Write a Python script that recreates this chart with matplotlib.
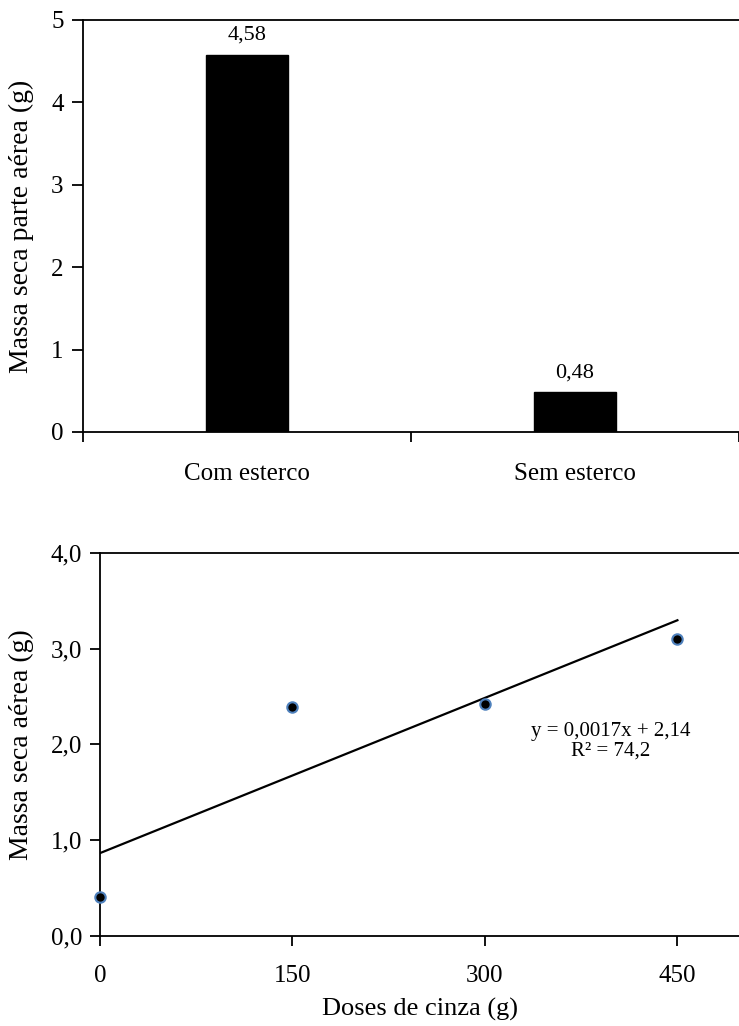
import numpy as np
import matplotlib
matplotlib.use("Agg")
import matplotlib.pyplot as plt

plt.rcParams['font.family'] = ['Liberation Serif', 'DejaVu Serif']

# Top chart data
categories = ["Com esterco", "Sem esterco"]
bar_values = [4.58, 0.48]
bar_labels = ["4,58", "0,48"]
top_yticks = [0, 1, 2, 3, 4, 5]

# Bottom chart data
doses = [0, 150, 300, 450]
massa = [0.41, 2.39, 2.42, 3.10]
bottom_yticks = [0.0, 1.0, 2.0, 3.0, 4.0]
bottom_xticks = [0, 150, 300, 450]
eq_text = "y = 0,0017x + 2,14\nR² = 74,2"

W, H = 739, 1026
fig = plt.figure(figsize=(W / 100, H / 100), dpi=100)

lw = 1.3
tick_fs = 18
label_fs = 20

# ---------- Top bar chart ----------
ax1 = fig.add_axes([83 / W, 1 - 432 / H, (W - 83) / W, (432 - 20) / H])
x = np.arange(len(categories))
ax1.bar(x, bar_values, width=0.25, color="black", edgecolor="black")
for xi, v, lab in zip(x, bar_values, bar_labels):
    ax1.annotate(lab, (xi, v), xytext=(0, 7), textcoords="offset points",
                 ha="center", va="bottom", fontsize=16)
ax1.set_xlim(-0.5, len(categories) - 0.5)
ax1.set_ylim(0, 5)
ax1.set_yticks(top_yticks)
ax1.set_yticklabels([str(t) for t in top_yticks])
ax1.set_xticks(x)
ax1.set_xticklabels(categories)
ax1.set_xticks(np.arange(len(categories) + 1) - 0.5, minor=True)
ax1.tick_params(axis="x", which="major", length=0, pad=22, labelsize=tick_fs)
ax1.tick_params(axis="x", which="minor", length=7, width=lw, direction="out")
ax1.tick_params(axis="y", length=8, width=lw, direction="out", labelsize=tick_fs, pad=6)
ax1.spines["right"].set_visible(False)
for s in ["left", "bottom", "top"]:
    ax1.spines[s].set_linewidth(lw)
ax1.set_ylabel("Massa seca parte aérea (g)", fontsize=label_fs, labelpad=12)

# ---------- Bottom scatter chart ----------
ax2 = fig.add_axes([100 / W, 1 - 936 / H, (W - 100) / W, (936 - 552.7) / H])
ax2.plot(doses, massa, linestyle="none", marker="o", markersize=7.5,
         markerfacecolor="black", markeredgecolor="#4F81BD", markeredgewidth=1.5,
         zorder=3, clip_on=False)
coef = np.polyfit(doses, massa, 1)
xl = np.array([min(doses), max(doses)])
ax2.plot(xl, np.polyval(coef, xl), color="black", linewidth=1.6, zorder=2)
ax2.text(398, 2.03, eq_text, ha="center", va="center", fontsize=15,
         linespacing=1.0)
ax2.set_xlim(0, 498)
ax2.set_ylim(0, 4)
ax2.set_xticks(bottom_xticks)
ax2.set_xticklabels([str(t) for t in bottom_xticks])
ax2.set_yticks(bottom_yticks)
ax2.set_yticklabels([f"{t:.1f}".replace(".", ",") for t in bottom_yticks])
ax2.tick_params(axis="both", length=7, width=lw, direction="out",
                labelsize=tick_fs)
ax2.tick_params(axis="x", pad=14)
ax2.tick_params(axis="y", pad=6)
ax2.spines["right"].set_visible(False)
for s in ["left", "bottom", "top"]:
    ax2.spines[s].set_linewidth(lw)
ax2.set_xlabel("Doses de cinza (g)", fontsize=19, labelpad=8)
ax2.set_ylabel("Massa seca aérea (g)", fontsize=label_fs, labelpad=12)

fig.savefig("out.png", dpi=100)
